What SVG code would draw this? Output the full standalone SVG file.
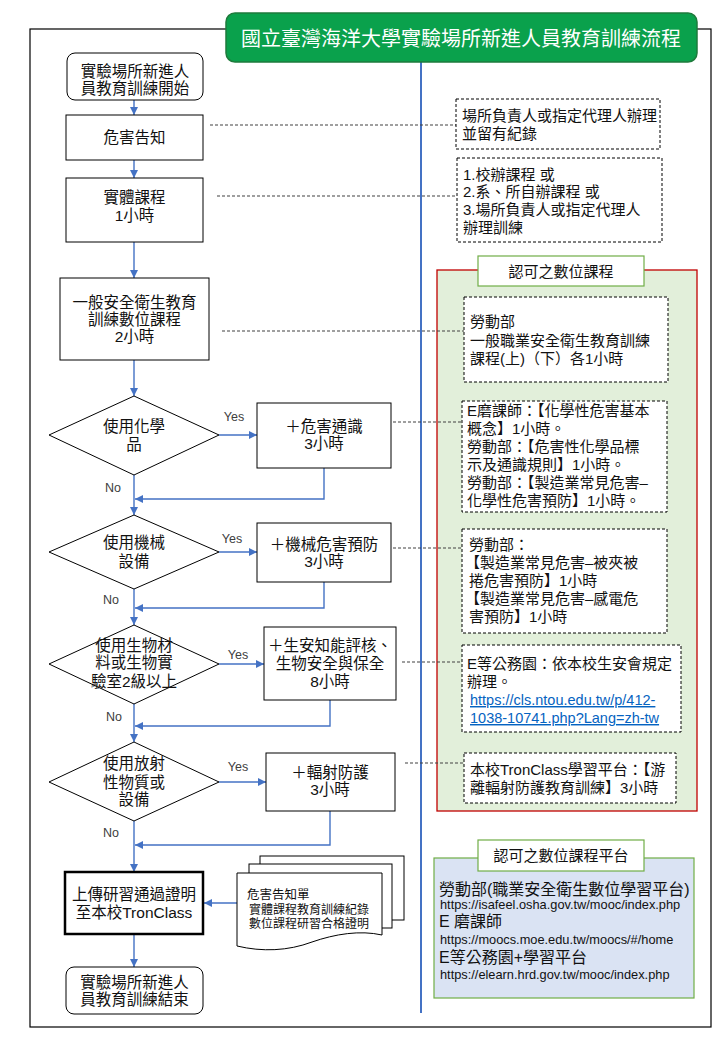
<svg xmlns="http://www.w3.org/2000/svg" width="720" height="1040" viewBox="0 0 720 1040">
<defs>
<style>
text{font-family:'Liberation Sans','Noto Sans CJK TC',sans-serif;fill:#111}
.fl{font-size:15.5px;text-anchor:middle}
.rt{font-size:15px}
.yn{font-size:12.5px;fill:#404040}
.box{fill:#fff;stroke:#000;stroke-width:1}
.dbox{fill:#fff;stroke:#000;stroke-width:1;stroke-dasharray:3 2}
.dash{fill:none;stroke:#404040;stroke-width:1.2;stroke-dasharray:3 2}
.flow{fill:none;stroke:#4472C4;stroke-width:1.4}
.link{fill:#0563C1;text-decoration:underline;font-size:14.5px}
.url{font-size:12.8px}
.big{font-size:16px}
</style>
<marker id="arr" viewBox="0 0 10 10" refX="10" refY="5" markerWidth="8" markerHeight="8" markerUnits="userSpaceOnUse" orient="auto">
<path d="M0,0 L10,5 L0,10 z" fill="#4472C4"/>
</marker>
</defs>
<rect x="0" y="0" width="720" height="1040" fill="#fff"/>
<rect id="frame" x="30" y="29" width="681" height="998" fill="none" stroke="#000" stroke-width="1.2"/>

<g id="panel_digital">
<rect x="437" y="270" width="260" height="541" fill="#E2EFDA" stroke="#C00000" stroke-width="1.3"/>
<rect x="478" y="256" width="166" height="30" fill="#fff" stroke="#70AD47" stroke-width="1.2"/>
<text x="561" y="277" class="rt" text-anchor="middle">認可之數位課程</text>
</g>

<g id="panel_platform">
<rect x="434" y="858" width="260" height="140" fill="#DAE3F3" stroke="#70AD47" stroke-width="1.2"/>
<rect x="478" y="840" width="166" height="31" fill="#fff" stroke="#70AD47" stroke-width="1.2"/>
<text x="561" y="861" class="rt" text-anchor="middle">認可之數位課程平台</text>
<text x="439" y="895" class="big">勞動部(職業安全衛生數位學習平台)</text>
<text x="440" y="909" class="url">https://isafeel.osha.gov.tw/mooc/index.php</text>
<text x="439" y="927" class="big">E 磨課師</text>
<text x="440" y="944" class="url">https://moocs.moe.edu.tw/moocs/#/home</text>
<text x="439" y="963" class="big">E等公務園+學習平台</text>
<text x="440" y="979" class="url">https://elearn.hrd.gov.tw/mooc/index.php</text>
</g>

<line id="divider" x1="421" y1="62" x2="421" y2="1013" stroke="#4472C4" stroke-width="2"/>

<g id="title">
<rect x="226" y="13" width="471" height="49" rx="9" fill="#0AA14C" stroke="#1E7B3C" stroke-width="1.5"/>
<text x="461" y="46" font-size="20" text-anchor="middle" style="fill:#fff">國立臺灣海洋大學實驗場所新進人員教育訓練流程</text>
</g>

<g id="connectors">
<path class="dash" d="M210,125 H456"/>
<path class="dash" d="M217,196 H457"/>
<path class="dash" d="M222,331 H464"/>
<path class="dash" d="M393,422 H462"/>
<path class="dash" d="M393,548 H462"/>
<path class="dash" d="M402,662 H462"/>
<path class="dash" d="M405,763 H464"/>
<path class="flow" d="M134,100 V115" marker-end="url(#arr)"/>
<path class="flow" d="M134,160 V178" marker-end="url(#arr)"/>
<path class="flow" d="M134,242 V278" marker-end="url(#arr)"/>
<path class="flow" d="M134,360 V396" marker-end="url(#arr)"/>
<path class="flow" d="M219,435 H257" marker-end="url(#arr)"/>
<path class="flow" d="M134,475 V515" marker-end="url(#arr)"/>
<path class="flow" d="M324,468 V499 H135" marker-end="url(#arr)"/>
<path class="flow" d="M219,552 H257" marker-end="url(#arr)"/>
<path class="flow" d="M134,589 V625" marker-end="url(#arr)"/>
<path class="flow" d="M324,582 V608 H135" marker-end="url(#arr)"/>
<path class="flow" d="M219,664 H264" marker-end="url(#arr)"/>
<path class="flow" d="M134,704 V742" marker-end="url(#arr)"/>
<path class="flow" d="M330,700 V726 H135" marker-end="url(#arr)"/>
<path class="flow" d="M219,782 H266" marker-end="url(#arr)"/>
<path class="flow" d="M134,821 V872" marker-end="url(#arr)"/>
<path class="flow" d="M330,811 V845 H135" marker-end="url(#arr)"/>
<path class="flow" d="M237,903 H204" marker-end="url(#arr)"/>
<path class="flow" d="M134,934 V967" marker-end="url(#arr)"/>
<text x="234" y="421" class="yn" text-anchor="middle">Yes</text>
<text x="113" y="492" class="yn" text-anchor="middle">No</text>
<text x="232" y="543" class="yn" text-anchor="middle">Yes</text>
<text x="111" y="604" class="yn" text-anchor="middle">No</text>
<text x="238" y="659" class="yn" text-anchor="middle">Yes</text>
<text x="114" y="721" class="yn" text-anchor="middle">No</text>
<text x="238" y="771" class="yn" text-anchor="middle">Yes</text>
<text x="111" y="837" class="yn" text-anchor="middle">No</text>
</g>

<g id="start">
<rect x="67" y="53" width="136" height="47" rx="8" class="box"/>
<text x="135" y="77" class="fl">實驗場所新進人</text>
<text x="135" y="94" class="fl">員教育訓練開始</text>
</g>
<g id="n_hazard">
<rect x="66" y="115" width="137" height="45" class="box"/>
<text x="134.5" y="143" class="fl">危害告知</text>
</g>
<g id="n_physical">
<rect x="66" y="178" width="137" height="64" class="box"/>
<text x="134.5" y="203" class="fl">實體課程</text>
<text x="134.5" y="221" class="fl">1小時</text>
</g>
<g id="n_general">
<rect x="60" y="278" width="149" height="82" class="box"/>
<text x="134.5" y="308" class="fl">一般安全衛生教育</text>
<text x="134.5" y="325" class="fl">訓練數位課程</text>
<text x="134.5" y="342" class="fl">2小時</text>
</g>

<g id="d_chem">
<polygon points="134,396 219,435 134,475 49,435" class="box"/>
<text x="134" y="432" class="fl">使用化學</text>
<text x="134" y="450" class="fl">品</text>
</g>
<g id="n_chem">
<rect x="257" y="403" width="134" height="65" class="box"/>
<text x="324" y="432" class="fl">＋危害通識</text>
<text x="324" y="449" class="fl">3小時</text>
</g>
<g id="d_mech">
<polygon points="134,515 219,552 134,589 49,552" class="box"/>
<text x="134" y="548" class="fl">使用機械</text>
<text x="134" y="567" class="fl">設備</text>
</g>
<g id="n_mech">
<rect x="257" y="523" width="134" height="59" class="box"/>
<text x="324" y="550" class="fl">＋機械危害預防</text>
<text x="324" y="567" class="fl">3小時</text>
</g>
<g id="d_bio">
<polygon points="134,625 219,664 134,704 49,664" class="box"/>
<text x="134" y="651" class="fl">使用生物材</text>
<text x="134" y="668" class="fl">料或生物實</text>
<text x="134" y="687" class="fl">驗室2級以上</text>
</g>
<g id="n_bio">
<rect x="264" y="627" width="132" height="73" class="box"/>
<text x="330" y="651" class="fl">＋生安知能評核、</text>
<text x="330" y="669" class="fl">生物安全與保全</text>
<text x="330" y="687" class="fl">8小時</text>
</g>
<g id="d_rad">
<polygon points="134,742 219,782 134,821 49,782" class="box"/>
<text x="134" y="769" class="fl">使用放射</text>
<text x="134" y="788" class="fl">性物質或</text>
<text x="134" y="805" class="fl">設備</text>
</g>
<g id="n_rad">
<rect x="266" y="753" width="129" height="58" class="box"/>
<text x="330" y="778" class="fl">＋輻射防護</text>
<text x="330" y="795" class="fl">3小時</text>
</g>

<g id="n_upload">
<rect x="65" y="872" width="138" height="62" fill="#fff" stroke="#000" stroke-width="2.5"/>
<text x="134" y="900" class="fl" font-size="16">上傳研習通過證明</text>
<text x="134" y="918" class="fl" font-size="16">至本校TronClass</text>
</g>
<g id="n_docs">
<rect x="260" y="856" width="144" height="64" class="box"/>
<rect x="249" y="864" width="143" height="64" class="box"/>
<path d="M237,873 H382 V935 C360,930 335,934 312,942 C288,951 262,952 237,946 Z" class="box"/>
<text x="247" y="899" font-size="12.5">危害告知單</text>
<text x="249" y="914" font-size="12">實體課程教育訓練紀錄</text>
<text x="249" y="928" font-size="12">數位課程研習合格證明</text>
</g>
<g id="end">
<rect x="66" y="967" width="137" height="47" rx="8" class="box"/>
<text x="134.5" y="988" class="fl">實驗場所新進人</text>
<text x="134.5" y="1005" class="fl">員教育訓練結束</text>
</g>

<g id="r_notice">
<rect x="456" y="99" width="204" height="50" class="dbox"/>
<text x="462" y="121" class="rt">場所負責人或指定代理人辦理</text>
<text x="462" y="139" class="rt">並留有紀錄</text>
</g>
<g id="r_physical">
<rect x="457" y="158" width="205" height="84" class="dbox"/>
<text x="463" y="180" class="rt">1.校辦課程 或</text>
<text x="463" y="197" class="rt">2.系、所自辦課程 或</text>
<text x="463" y="215" class="rt">3.場所負責人或指定代理人</text>
<text x="463" y="233" class="rt">辦理訓練</text>
</g>
<g id="r_general">
<rect x="464" y="297" width="204" height="85" class="dbox"/>
<text x="470" y="327" class="rt">勞動部</text>
<text x="470" y="346" class="rt">一般職業安全衛生教育訓練</text>
<text x="470" y="364" class="rt">課程(上)（下）各1小時</text>
</g>
<g id="r_chem">
<rect x="462" y="401" width="205" height="111" class="dbox"/>
<text x="467" y="416" class="rt">E磨課師：【化學性危害基本</text>
<text x="467" y="434" class="rt">概念】1小時。</text>
<text x="467" y="452" class="rt">勞動部：【危害性化學品標</text>
<text x="467" y="470" class="rt">示及通識規則】1小時。</text>
<text x="467" y="488" class="rt">勞動部：【製造業常見危害–</text>
<text x="467" y="506" class="rt">化學性危害預防】1小時。</text>
</g>
<g id="r_mech">
<rect x="462" y="529" width="205" height="104" class="dbox"/>
<text x="469" y="550" class="rt">勞動部：</text>
<text x="465" y="568" class="rt">【製造業常見危害–被夾被</text>
<text x="469" y="586" class="rt">捲危害預防】1小時</text>
<text x="465" y="604" class="rt">【製造業常見危害–感電危</text>
<text x="469" y="622" class="rt">害預防】1小時</text>
</g>
<g id="r_bio">
<rect x="462" y="645" width="219" height="87" class="dbox"/>
<text x="467" y="669" class="rt">E等公務園：依本校生安會規定</text>
<text x="467" y="687" class="rt">辦理。</text>
<text x="470" y="705" class="link">https://cls.ntou.edu.tw/p/412-</text>
<text x="470" y="723" class="link">1038-10741.php?Lang=zh-tw</text>
</g>
<g id="r_rad">
<rect x="464" y="753" width="212" height="50" class="dbox"/>
<text x="470" y="775" class="rt">本校TronClass學習平台：【游</text>
<text x="470" y="793" class="rt">離輻射防護教育訓練】3小時</text>
</g>
</svg>
